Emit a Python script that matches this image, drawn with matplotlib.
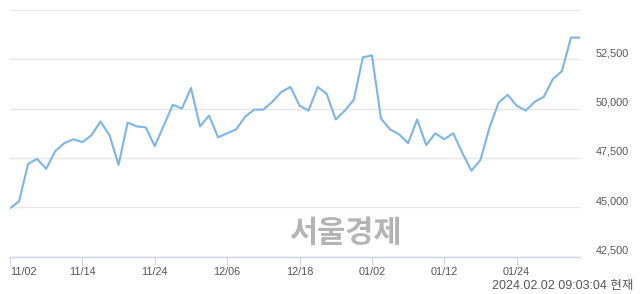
import matplotlib.pyplot as plt
from matplotlib.ticker import MultipleLocator
import numpy as np

# trading days, 2023-11-02 .. 2024-02-02
dates = [
    "11/02", "11/03", "11/06", "11/07", "11/08", "11/09", "11/10", "11/13",
    "11/14", "11/15", "11/16", "11/17", "11/20", "11/21", "11/22", "11/23",
    "11/24", "11/27", "11/28", "11/29", "11/30", "12/01", "12/04", "12/05",
    "12/06", "12/07", "12/08", "12/11", "12/12", "12/13", "12/14", "12/15",
    "12/18", "12/19", "12/20", "12/21", "12/22", "12/26", "12/27", "12/28",
    "01/02", "01/03", "01/04", "01/05", "01/08", "01/09", "01/10", "01/11",
    "01/12", "01/15", "01/16", "01/17", "01/18", "01/19", "01/22", "01/23",
    "01/24", "01/25", "01/26", "01/29", "01/30", "01/31", "02/01", "02/02",
]
prices = [
    44950, 45300, 47200, 47450, 46950, 47850, 48250, 48450,
    48300, 48650, 49350, 48650, 47150, 49300, 49100, 49050,
    48100, 49150, 50200, 50000, 51050, 49100, 49650, 48550,
    48750, 48950, 49600, 49950, 49950, 50350, 50850, 51100,
    50150, 49900, 51100, 50750, 49450, 49900, 50450, 52600,
    52700, 49500, 48950, 48700, 48250, 49450, 48150, 48750,
    48450, 48750, 47750, 46850, 47400, 49050, 50300, 50700,
    50150, 49900, 50350, 50600, 51500, 51900, 53600, 53600,
]
y_labels = [42500, 45000, 47500, 50000, 52500]
tick_every = 8
stamp = "2024.02.02 09:03:04 현재"
watermark = "서울경제"

fonts = ["Liberation Sans", "Noto Sans CJK KR", "DejaVu Sans"]
plt.rcParams["font.family"] = fonts

fig = plt.figure(figsize=(6.4, 2.94), dpi=100)
ax = fig.add_axes([10 / 640, 37.4 / 294, 570 / 640, 246.6 / 294])

x = np.arange(len(prices))
ax.plot(x, prices, color="#7cb5ec", lw=1.5, zorder=3, solid_joinstyle="round")

ax.set_xlim(0, len(prices) - 1)
ax.set_ylim(42500, 55000)
ax.yaxis.set_major_locator(MultipleLocator(2500))
ax.grid(axis="y", color="#e6e6e6", lw=1)
ax.set_axisbelow(True)
ax.tick_params(axis="y", left=False, labelleft=False)

for side in ("left", "right", "top"):
    ax.spines[side].set_visible(False)
ax.spines["bottom"].set_color("#ccd6eb")
ax.spines["bottom"].set_linewidth(1)

ticks = x[::tick_every]
ax.set_xticks(ticks)
ax.set_xticklabels([dates[i] for i in ticks])
ax.tick_params(axis="x", length=5.8, width=0.8, color="#ccd6eb",
               labelsize=7.8, labelcolor="#555555", pad=2)
ax.get_xticklabels()[0].set_horizontalalignment("left")

# price labels on the right, sitting just above their gridlines
for v in y_labels:
    ax.annotate(f"{v:,}", xy=(1, v), xycoords=("axes fraction", "data"),
                xytext=(49, 6), textcoords="offset pixels",
                ha="right", va="center", fontsize=7.8, color="#555555",
                annotation_clip=False)

ax.text(0.588, 0.095, watermark, transform=ax.transAxes, ha="center",
        va="center", fontsize=22, fontweight="bold", color="#b4b4b4",
        family=["Noto Sans CJK KR"], zorder=1)

fig.text(633 / 640, 1 - 286 / 294, stamp, ha="right", va="center",
         fontsize=9, color="#555555")

fig.savefig("out.png", dpi=100)
